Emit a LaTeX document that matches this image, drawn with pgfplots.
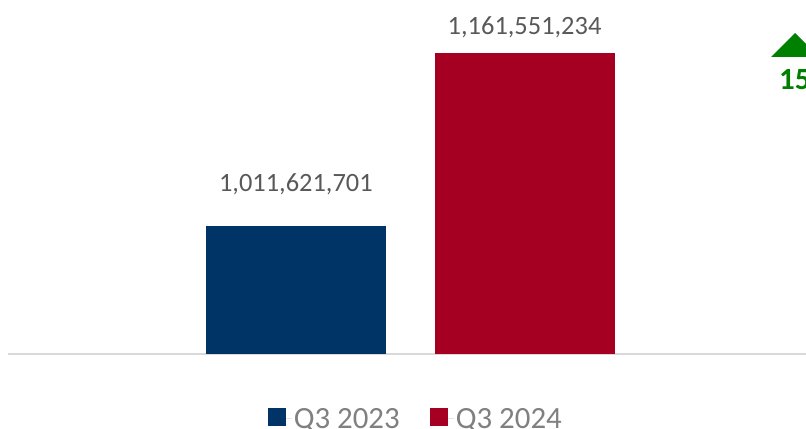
\documentclass[border=0pt]{standalone}
\usepackage{fontspec}
\setmainfont{Carlito}
\usepackage{pgfplots}
\pgfplotsset{compat=1.18}

\definecolor{navy}{RGB}{0,51,102}
\definecolor{crimson}{RGB}{165,0,33}
\definecolor{lblgray}{RGB}{89,89,89}
\definecolor{leggray}{RGB}{128,128,128}
\definecolor{axgray}{RGB}{217,217,217}
\definecolor{upgreen}{RGB}{0,128,0}

\begin{document}
\begin{tikzpicture}
\useasboundingbox (0,0) rectangle (806bp,429bp);
\clip (0,0) rectangle (806bp,429bp);
\begin{axis}[
    at={(8bp,75bp)}, anchor=south west,
    scale only axis, width=798bp, height=354bp,
    xmin=-1.259, xmax=2.231,
    ymin=9.0043e8, ymax=1.2072e9,
    axis x line*=bottom, axis y line=none,
    x axis line style={axgray, line width=2bp, -},
    xtick=\empty, ytick=\empty,
    clip=false,
    legend columns=2,
    legend image code/.code={\path (0bp,0bp) -- (24bp,0bp);
        \fill[#1, draw=none] (0bp,-7bp) rectangle (18bp,11bp);},
    legend style={at={(0.511,-0.1835)}, anchor=center, draw=none, fill=none,
        font=\fontsize{31}{34}\selectfont, text=leggray,
        /tikz/every even column/.append style={column sep=28bp}},
    barlbl/.style={ybar, bar width=180bp, bar shift=0pt, draw=none,
        point meta=explicit symbolic, nodes near coords,
        every node near coord/.append style={font=\fontsize{26.5}{30}\selectfont,
            text=lblgray, anchor=base}},
]
\addplot[barlbl, fill=navy,
    every node near coord/.append style={yshift=34bp}]
    coordinates {(0,1011621701) [1,011,621,701]};
\addlegendentry{Q3 2023}
\addplot[barlbl, fill=crimson,
    every node near coord/.append style={yshift=18.4bp}]
    coordinates {(1,1161551234) [1,161,551,234]};
\addlegendentry{Q3 2024}
% growth marker at the right edge
\addplot[forget plot, sharp plot, fill=upgreen, draw=none]
    coordinates {(2.078,1.15782e9) (2.183,1.17862e9) (2.288,1.15782e9)} -- cycle;
\node[anchor=base west, inner sep=0pt, font=\bfseries\fontsize{31}{31}\selectfont,
    text=upgreen] at (axis cs:2.113,1.12922e9) {15\%};
\end{axis}
\end{tikzpicture}
\end{document}
